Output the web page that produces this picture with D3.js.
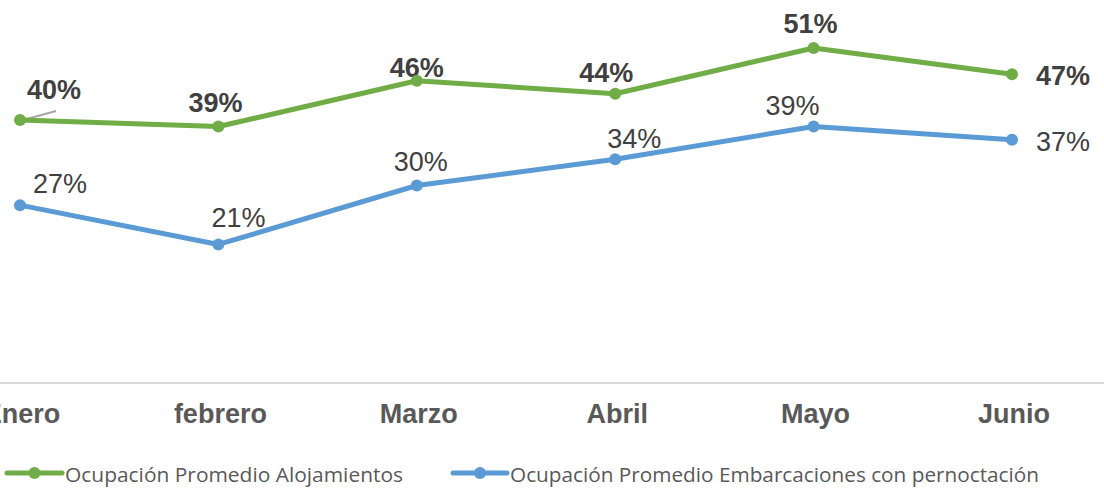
<!DOCTYPE html>
<html>
<head>
<meta charset="utf-8">
<script src="https://cdn.jsdelivr.net/npm/d3@7/dist/d3.min.js"></script>
<style>
  html, body { margin: 0; padding: 0; background: #ffffff; }
  svg { display: block; }
</style>
</head>
<body>
<svg id="chart" width="1104" height="490"></svg>
<script>
// Monthly average occupancy, January–June
const months = ["Enero", "febrero", "Marzo", "Abril", "Mayo", "Junio"];
const alojamientos = [0.40, 0.39, 0.46, 0.44, 0.51, 0.47];
const embarcaciones = [0.27, 0.21, 0.30, 0.34, 0.39, 0.37];
const seriesNames = [
  "Ocupación Promedio Alojamientos",
  "Ocupación Promedio Embarcaciones con pernoctación"
];

// Label placement relative to each point: [dx, dy, anchor]
const greenLabelPos = [[34, -21, "middle"], [-3, -15, "middle"], [0, -4, "middle"],
                       [-9, -12, "middle"], [-3, -15, "middle"], [24, 11, "start"]];
const blueLabelPos  = [[40, -12, "middle"], [20, -17, "middle"], [4, -15, "middle"],
                       [19, -11, "middle"], [-21, -12, "middle"], [24, 11, "start"]];

const GREEN = "#70ad47", BLUE = "#5b9bd5";
const svg = d3.select("#chart");

const x = d3.scalePoint().domain(months).range([20, 1012]);
const y = d3.scaleLinear().domain([0, 0.6]).range([382, -11]);
const fmt = d3.format(".0%");

// category axis
svg.append("line")
  .attr("x1", 0).attr("x2", 1104)
  .attr("y1", 383).attr("y2", 383)
  .attr("stroke", "#d9d9d9").attr("stroke-width", 2);

svg.append("g").selectAll("text").data(months).join("text")
  .attr("x", d => x(d) + 2).attr("y", 423)
  .attr("text-anchor", "middle")
  .attr("font-family", "Liberation Sans, Arial, sans-serif")
  .attr("font-weight", "bold").attr("font-size", 27)
  .attr("fill", "#595959")
  .text(d => d);

const line = d3.line().x((d, i) => x(months[i])).y(d => y(d));

function drawSeries(values, color, labelPos, bold) {
  const g = svg.append("g");
  g.append("path").datum(values)
    .attr("d", line).attr("fill", "none")
    .attr("stroke", color).attr("stroke-width", 5)
    .attr("stroke-linejoin", "round").attr("stroke-linecap", "round");
  g.selectAll("text").data(values).join("text")
    .attr("x", (d, i) => x(months[i]) + labelPos[i][0])
    .attr("y", (d, i) => y(d) + labelPos[i][1])
    .attr("text-anchor", (d, i) => labelPos[i][2])
    .attr("font-family", "Liberation Sans, Arial, sans-serif")
    .attr("font-weight", bold ? "bold" : "normal")
    .attr("font-size", 27)
    .attr("fill", "#404040")
    .text(d => fmt(d));
  g.selectAll("circle").data(values).join("circle")
    .attr("cx", (d, i) => x(months[i])).attr("cy", d => y(d))
    .attr("r", 6).attr("fill", color);
  return g;
}

// leader line for the first label of the upper series
svg.append("line")
  .attr("x1", x(months[0]) + 3).attr("y1", y(alojamientos[0]))
  .attr("x2", x(months[0]) + 36).attr("y2", y(alojamientos[0]) - 9)
  .attr("stroke", "#a6a6a6").attr("stroke-width", 2);

drawSeries(embarcaciones, BLUE, blueLabelPos, false);
drawSeries(alojamientos, GREEN, greenLabelPos, true);

// legend
const legend = [
  { name: seriesNames[0], color: GREEN, x0: 7, x1: 62, text: 65, width: 338 },
  { name: seriesNames[1], color: BLUE, x0: 453, x1: 507, text: 510, width: 529 }
];
const lg = svg.append("g").selectAll("g").data(legend).join("g");
lg.append("line")
  .attr("x1", d => d.x0).attr("x2", d => d.x1)
  .attr("y1", 473).attr("y2", 473)
  .attr("stroke", d => d.color).attr("stroke-width", 5)
  .attr("stroke-linecap", "round");
lg.append("circle")
  .attr("cx", d => (d.x0 + d.x1) / 2).attr("cy", 473)
  .attr("r", 6).attr("fill", d => d.color);
lg.append("text")
  .attr("x", d => d.text).attr("y", 482)
  .attr("font-family", "Open Sans, Noto Sans, sans-serif")
  .attr("font-size", 20).attr("fill", "#595959")
  .attr("textLength", d => d.width).attr("lengthAdjust", "spacingAndGlyphs")
  .text(d => d.name);
</script>
</body>
</html>
